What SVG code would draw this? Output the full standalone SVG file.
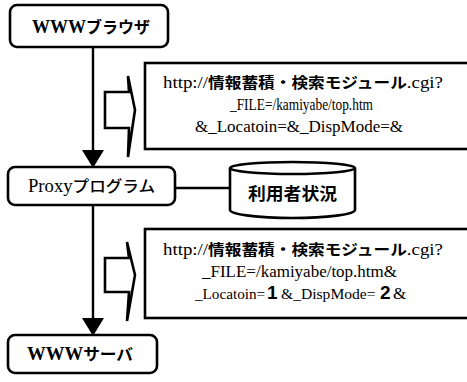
<svg xmlns="http://www.w3.org/2000/svg" width="467" height="382" viewBox="0 0 467 382">
<defs>
<style>
.node{fill:#fff;stroke:#000;stroke-width:2.6}
.msg{fill:#fff;stroke:#000;stroke-width:2.6}
.line{fill:none;stroke:#000;stroke-width:2.4}
.head{fill:#000;stroke:none}
.barrow{fill:#fff;stroke:#000;stroke-width:2.6;stroke-linejoin:miter}
.ser{font-family:'Liberation Serif','Noto Sans CJK JP',serif;font-size:17px;fill:#000}
.serb{font-family:'Liberation Serif','Noto Sans CJK JP',serif;font-size:18px;font-weight:bold;fill:#000}
.jp{font-family:'Noto Sans CJK JP',sans-serif;font-weight:bold;font-size:15px;fill:#000}
.big{font-family:'Liberation Sans','Noto Sans CJK JP',sans-serif;font-weight:bold;font-size:19px;fill:#000}
</style>
</defs>
<rect width="467" height="382" fill="#fff"/>
<g id="connectors">
<line class="line" x1="93" y1="47" x2="93" y2="152"/>
<polygon class="head" points="82,150 104,150 93,168"/>
<line class="line" x1="93" y1="205" x2="93" y2="320"/>
<polygon class="head" points="82,318 104,318 93,336"/>
<line class="line" x1="175" y1="188" x2="230" y2="188"/>
</g>
<g id="flow-arrows">
<polygon class="barrow" points="105,92 129,92 128,76 135,110 128,157 129,128 105,128"/>
<polygon class="barrow" points="105,258 129,258 127,242 135,275 127,321 129,292 105,292"/>
</g>
<g id="browser">
<rect class="node" x="10" y="5" width="158" height="42" rx="7"/>
<text x="91" y="33" text-anchor="middle" textLength="118" lengthAdjust="spacingAndGlyphs"><tspan class="serb">WWW</tspan><tspan class="jp" style="font-size:16px">ブラウザ</tspan></text>
</g>
<g id="proxy">
<rect class="node" x="8" y="167" width="167" height="38" rx="7"/>
<text x="91.5" y="192" text-anchor="middle" textLength="127" lengthAdjust="spacingAndGlyphs"><tspan class="ser" style="font-size:18px">Proxy</tspan><tspan class="jp" style="font-size:16px;font-weight:500">プログラム</tspan></text>
</g>
<g id="user-status">
<path class="node" d="M230,168 A62.5,6 0 0,1 355,168 L355,210 A62.5,8 0 0,1 230,210 Z"/>
<path class="line" stroke-width="2.6" d="M230,168 A62.5,6 0 0,0 355,168"/>
<text class="jp" x="292.5" y="200" text-anchor="middle" style="font-size:17px" textLength="89" lengthAdjust="spacingAndGlyphs">利用者状況</text>
</g>
<g id="server">
<rect class="node" x="8" y="335" width="149" height="38" rx="7"/>
<text x="80" y="360" text-anchor="middle" textLength="106" lengthAdjust="spacingAndGlyphs"><tspan class="serb">WWW</tspan><tspan class="jp" style="font-size:16px">サーバ</tspan></text>
</g>
<g id="request-1">
<rect class="msg" x="145" y="63" width="340" height="86"/>
<text x="303" y="88" text-anchor="middle" textLength="280" lengthAdjust="spacingAndGlyphs"><tspan class="ser">http://</tspan><tspan class="jp">情報蓄積・検索モジュール</tspan><tspan class="ser">.cgi?</tspan></text>
<text class="ser" x="301.5" y="110" text-anchor="middle" textLength="143" lengthAdjust="spacingAndGlyphs">_FILE=/kamiyabe/top.htm</text>
<text class="ser" x="299" y="132" text-anchor="middle" textLength="208" lengthAdjust="spacingAndGlyphs">&amp;_Locatoin=&amp;_DispMode=&amp;</text>
</g>
<g id="request-2">
<rect class="msg" x="145" y="229" width="340" height="89"/>
<text x="303" y="255" text-anchor="middle" textLength="280" lengthAdjust="spacingAndGlyphs"><tspan class="ser">http://</tspan><tspan class="jp">情報蓄積・検索モジュール</tspan><tspan class="ser">.cgi?</tspan></text>
<text class="ser" x="299.5" y="277" text-anchor="middle" textLength="195" lengthAdjust="spacingAndGlyphs">_FILE=/kamiyabe/top.htm&amp;</text>
<text class="ser" x="195" y="299" style="font-size:15.2px">_Locatoin=</text>
<text class="big" x="267" y="299">1</text>
<text class="ser" x="281" y="299" style="font-size:15.6px">&amp;_DispMode=</text>
<text class="big" x="380" y="299">2</text>
<text class="ser" x="393" y="299">&amp;</text>
</g>
</svg>
